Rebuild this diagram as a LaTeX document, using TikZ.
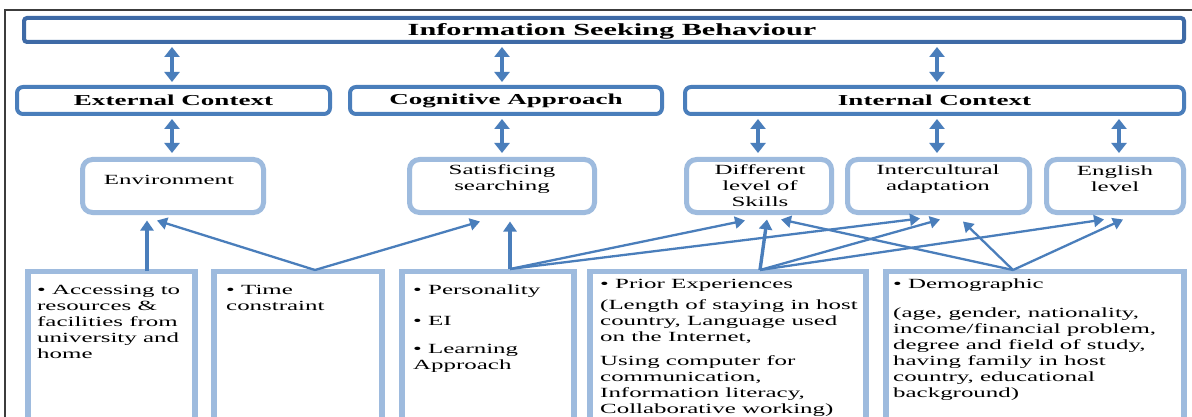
\documentclass[tikz,border=0pt]{standalone}
\usepackage{fontspec}
\setmainfont{Liberation Serif}[FakeStretch=1.78]
\usetikzlibrary{arrows.meta,calc}
\definecolor{dkb}{RGB}{62,106,166}
\definecolor{mdb}{RGB}{74,126,187}
\definecolor{ltb}{RGB}{158,187,222}
\definecolor{frm}{RGB}{60,60,60}
\begin{document}
\begin{tikzpicture}[x=1pt,y=-1pt,
  titlebox/.style={draw=dkb,line width=4pt,rounded corners=3pt,inner sep=0pt,outer sep=0pt},
  ctxbox/.style={draw=mdb,line width=4pt,rounded corners=6pt,inner sep=0pt,outer sep=0pt,
     font=\fontsize{15.2}{18}\selectfont\bfseries},
  factbox/.style={draw=ltb,line width=5pt,rounded corners=10pt,inner sep=0pt,outer sep=0pt},
  srcbox/.style={draw=ltb,line width=5.5pt,inner sep=0pt,outer sep=0pt},
  ftext/.style={font=\fontsize{14}{16}\selectfont,align=center,inner sep=0pt},
  btext/.style={font=\fontsize{14}{16}\selectfont,align=left,inner sep=0pt,anchor=north west},
  ttext/.style={font=\fontsize{17}{20}\selectfont\bfseries,inner sep=0pt},
  dbl/.style={draw=mdb,line width=4.8pt,{Triangle[width=15pt,length=10pt]}-{Triangle[width=15pt,length=10pt]}},
  onearrow/.style={draw=mdb,line width=3.4pt,-{Triangle[width=13pt,length=10pt]}},
  thinarrow/.style={draw=mdb,line width=2.3pt,-{Triangle[width=12pt,length=10pt]}},
  frame/.style={draw=frm,line width=1.2pt}
]
\useasboundingbox (0,0) rectangle (1192,417);
\clip (0,0) rectangle (1192,417);
\fill[white] (0,0) rectangle (1192,417);
\draw[frame] (5,420) -- (5,10) -- (1195,10);

% top
\node[titlebox,minimum width=1160pt,minimum height=24pt] (title) at (604,30) {};
\node[ttext] (titletxt) at (612,31) {Information Seeking Behaviour};

% contexts
\node[ctxbox,minimum width=313pt,minimum height=27pt] (ext) at (173.5,100.5) {External Context};
\node[ctxbox,minimum width=312pt,minimum height=27pt] (cog) at (506,100.5) {Cognitive Approach};
\node[ctxbox,minimum width=499pt,minimum height=27pt] (int) at (934.5,100.5) {Internal Context};

% factors
\node[factbox,minimum width=181pt,minimum height=53pt] (env) at (173,186) {};
\node[factbox,minimum width=185pt,minimum height=53pt] (sat) at (502,186) {};
\node[factbox,minimum width=145pt,minimum height=53pt] (diff) at (759,186) {};
\node[factbox,minimum width=182pt,minimum height=53pt] (inter) at (938.5,186) {};
\node[factbox,minimum width=137pt,minimum height=53pt] (eng) at (1115,186) {};

\node[ftext] (envt) at (169,180) {Environment};
\node[ftext] (satt) at (502,179) {Satisficing\\searching};
\node[ftext] (difft) at (760,186) {Different\\level of\\Skills};
\node[ftext] (intert) at (938,179) {Intercultural\\adaptation};
\node[ftext] (engt) at (1115,179) {English\\level};

% source boxes
\node[srcbox,minimum width=167pt,minimum height=180pt] (b1) at (111.5,361.5) {};
\node[srcbox,minimum width=168pt,minimum height=180pt] (b2) at (298,361.5) {};
\node[srcbox,minimum width=172pt,minimum height=180pt] (b3) at (488,361.5) {};
\node[srcbox,minimum width=276pt,minimum height=180pt] (b4) at (728,361.5) {};
\node[srcbox,minimum width=298pt,minimum height=180pt] (b5) at (1035,361.5) {};

\node[btext] (b1t) at (37,283) {\rule{0pt}{11pt}• Accessing to\\resources \&\\facilities from\\university and\\home};
\node[btext] (b2t) at (226,283) {\rule{0pt}{11pt}• Time\\constraint};
\node[btext] (b3t) at (413,283) {\rule{0pt}{11pt}• Personality\\[15pt]• EI\\[12pt]• Learning\\Approach};
\node[btext] (b4t) at (600,277) {\rule{0pt}{11pt}• Prior Experiences\\[5pt](Length of staying in host\\country, Language used\\on the Internet,\\[8pt]Using computer for\\communication,\\Information literacy,\\Collaborative working)};
\node[btext] (b5t) at (893,277) {\rule{0pt}{11pt}• Demographic\\[13pt](age, gender, nationality,\\income/financial problem,\\degree and field of study,\\having family in host\\country, educational\\background)};

% columns for double arrows
\coordinate (c1) at (172,0);
\coordinate (c2) at (502,0);
\coordinate (c3) at (937,0);
\coordinate (c4) at (758,0);
\coordinate (c5) at (1119,0);

\draw[dbl,shorten <=5pt,shorten >=5pt] (title.south -| c1) -- (ext.north -| c1);
\draw[dbl,shorten <=5pt,shorten >=5pt] (title.south -| c2) -- (cog.north -| c2);
\draw[dbl,shorten <=5pt,shorten >=5pt] (title.south -| c3) -- (int.north -| c3);

\draw[dbl,shorten <=5pt,shorten >=6.5pt] (ext.south -| c1) -- (env.north -| c1);
\draw[dbl,shorten <=5pt,shorten >=6.5pt] (cog.south -| c2) -- (sat.north -| c2);
\draw[dbl,shorten <=5pt,shorten >=6.5pt] (int.south -| c4) -- (diff.north -| c4);
\draw[dbl,shorten <=5pt,shorten >=6.5pt] (int.south -| c3) -- (inter.north -| c3);
\draw[dbl,shorten <=5pt,shorten >=6.5pt] (int.south -| c5) -- (eng.north -| c5);

% sources of influence arrows
\coordinate (s1) at (147,271);
\coordinate (s2) at (315,270);
\coordinate (s3) at (510,269);
\coordinate (s4) at (760,270);
\coordinate (s5) at (1013,270);

\draw[onearrow] (s1) -- ($(env.south)+(-26,8)$);
\draw[thinarrow] (s2) -- ($(env.south)+(-16,8)$);
\draw[thinarrow] (s2) -- ($(sat.south)+(-22,9)$);
\draw[onearrow] (s3) -- ($(sat.south)+(8,9)$);
\draw[thinarrow] (s3) -- ($(diff.south)+(-14,8)$);
\draw[thinarrow] (s3) -- ($(inter.south)+(-18.5,6)$);
\draw[onearrow] (s4) -- ($(diff.south)+(8,7)$);
\draw[thinarrow] (s4) -- ($(inter.south)+(1.5,7)$);
\draw[thinarrow] (s4) -- ($(eng.south)+(-11,7)$);
\draw[thinarrow] (s5) -- ($(diff.south)+(22,7)$);
\draw[thinarrow] (s5) -- ($(inter.south)+(24.5,9)$);
\draw[thinarrow] (s5) -- ($(eng.south)+(8,7)$);
\end{tikzpicture}
\end{document}
